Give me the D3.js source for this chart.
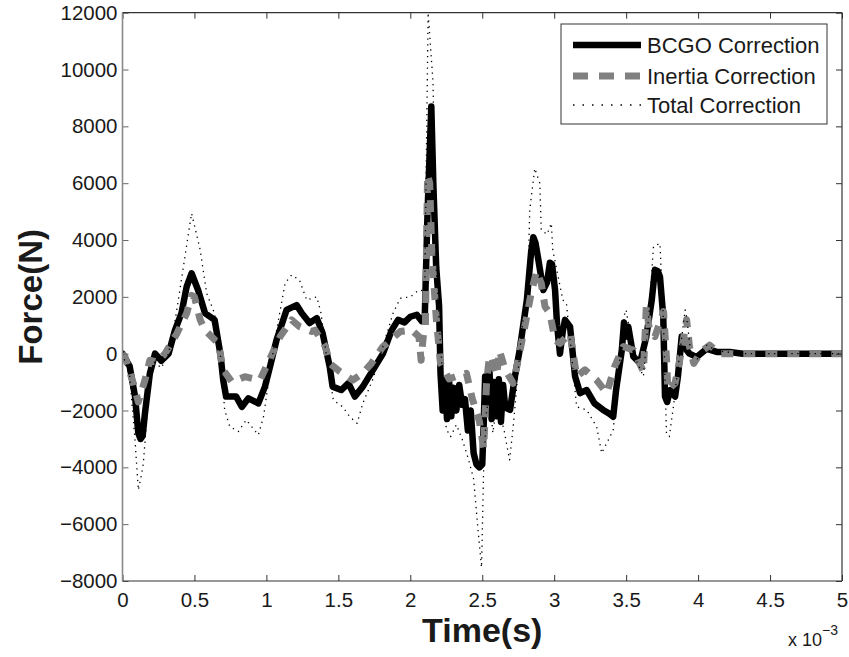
<!DOCTYPE html>
<html>
<head>
<meta charset="utf-8">
<script src="https://cdn.jsdelivr.net/npm/d3@7"></script>
<style>
html,body{margin:0;padding:0;background:#fff;}
svg{display:block;}
text{font-family:"Liberation Sans",Arial,sans-serif;fill:#1a1a1a;}
</style>
</head>
<body>
<svg id="chart" width="849" height="657"></svg>
<script>
// ---- data (time in ms, force in N) ----
const seriesNames = ["BCGO Correction", "Inertia Correction", "Total Correction"];

const bcgoT = [0,0.05,0.087,0.11,0.125,0.14,0.156,0.19,0.226,0.27,0.32,0.365,0.41,0.446,0.48,0.525,0.573,0.64,0.68,0.70,0.72,0.79,0.83,0.875,0.944,0.99,1.025,1.07,1.14,1.21,1.245,1.30,1.35,1.39,1.44,1.46,1.52,1.57,1.615,1.67,1.74,1.81,1.87,1.915,1.96,2.0,2.045,2.08,2.10,2.12,2.146,2.16,2.18,2.20,2.21,2.225,2.24,2.255,2.27,2.285,2.30,2.32,2.34,2.36,2.38,2.40,2.42,2.44,2.46,2.48,2.50,2.51,2.52,2.535,2.55,2.565,2.58,2.60,2.615,2.63,2.645,2.66,2.693,2.727,2.76,2.81,2.84,2.855,2.87,2.89,2.924,2.95,2.97,2.985,3.006,3.02,3.04,3.06,3.075,3.11,3.145,3.18,3.226,3.28,3.34,3.38,3.41,3.43,3.47,3.485,3.50,3.515,3.55,3.596,3.64,3.678,3.70,3.72,3.735,3.758,3.77,3.785,3.805,3.84,3.86,3.886,3.92,3.94,3.99,4.06,4.13,4.22,4.31,5.0];
const bcgoF = [0,-450,-1500,-2800,-3000,-2900,-2100,-700,0,-250,0,830,1430,2360,2830,2240,1430,1190,0,-930,-1510,-1510,-1870,-1570,-1750,-1160,-460,470,1540,1710,1430,1080,1250,730,-460,-1160,-1280,-1040,-1510,-1160,-580,0,820,1190,1100,1300,1370,1140,1190,5000,8700,6000,3040,1680,-700,-2000,-900,-2300,-1000,-2200,-1200,-2000,-1100,-1800,-1600,-2700,-2000,-3500,-3900,-4000,-3900,-2500,-800,-2000,-600,-2300,-1000,-2200,-900,-2400,-1100,-1900,-1980,-800,130,1890,3600,4100,3900,3300,2240,2500,3200,3150,2240,1000,0,800,1190,950,-800,-1390,-1280,-1750,-1980,-2100,-2220,-1280,130,1100,600,950,-100,-340,600,1890,2950,2900,2710,1300,-1510,-1700,-1280,-1510,-800,600,130,0,-120,170,60,60,0,0];

const inertiaT = [0,0.017,0.075,0.11,0.156,0.19,0.24,0.295,0.377,0.446,0.48,0.50,0.54,0.573,0.666,0.70,0.76,0.85,0.955,1.01,1.095,1.175,1.23,1.315,1.338,1.41,1.44,1.51,1.60,1.67,1.73,1.81,1.93,2.01,2.06,2.075,2.09,2.105,2.12,2.135,2.15,2.18,2.21,2.27,2.34,2.39,2.43,2.48,2.51,2.53,2.55,2.57,2.60,2.62,2.66,2.715,2.74,2.80,2.84,2.877,2.91,2.936,2.97,3.006,3.04,3.11,3.156,3.214,3.295,3.365,3.42,3.48,3.55,3.62,3.64,3.66,3.70,3.76,3.78,3.79,3.84,3.886,3.92,3.94,3.97,4.02,4.08,4.15,5.0];
const inertiaF = [0,-100,-1040,-1700,-930,-230,-300,0,700,1420,2050,2000,1190,830,360,-570,-990,-810,-930,-340,600,1190,950,780,830,250,-340,-630,-930,-690,-340,250,780,830,600,-230,600,1000,6300,6000,3500,1270,-350,-890,-760,-690,-1570,-2380,-3330,-1020,-80,-200,-760,100,-570,-1040,-460,1070,2130,2900,2480,1660,1420,480,360,720,-800,-570,-930,-1390,-460,250,130,-630,1660,900,600,1480,-120,-1280,-1040,130,1200,250,-340,60,300,0,0];

const totalT = [0,0.05,0.087,0.11,0.13,0.145,0.18,0.22,0.27,0.32,0.37,0.42,0.48,0.54,0.585,0.64,0.68,0.71,0.746,0.805,0.86,0.944,0.98,1.02,1.07,1.13,1.175,1.23,1.28,1.35,1.38,1.42,1.465,1.53,1.58,1.63,1.67,1.74,1.81,1.88,1.93,2.0,2.06,2.10,2.124,2.158,2.18,2.21,2.25,2.28,2.32,2.36,2.405,2.44,2.47,2.495,2.51,2.53,2.55,2.574,2.60,2.65,2.69,2.715,2.766,2.82,2.83,2.865,2.90,2.91,2.95,2.98,2.99,3.06,3.085,3.12,3.156,3.226,3.295,3.33,3.365,3.41,3.45,3.49,3.50,3.55,3.62,3.66,3.69,3.735,3.76,3.78,3.80,3.83,3.86,3.91,3.92,3.95,4.0,4.06,4.13,4.3,5.0];
const totalF = [0,-800,-3040,-4800,-4300,-3860,-1500,-300,-500,0,1300,2950,4940,3650,2120,1420,0,-1980,-2570,-2740,-2330,-2860,-2220,-800,800,2480,2770,2590,1890,2000,1420,-200,-1630,-1870,-2220,-2450,-1750,-900,250,1420,1950,2000,2240,2200,12000,9540,3000,330,-2650,-2920,-2500,-3000,-3730,-4410,-6170,-7520,-4000,-2000,-1500,-2790,-1800,-2650,-3740,-2570,330,3040,5060,6520,6000,4350,4200,4590,3650,1890,1770,0,-1870,-1980,-2570,-3500,-3150,-2690,-500,1420,1540,0,-800,1500,3770,3880,1000,-2800,-2920,-1800,-500,1540,1300,0,-200,300,100,0,0];

const xTicks = [0,0.5,1,1.5,2,2.5,3,3.5,4,4.5,5];
const xTickLabels = ["0","0.5","1","1.5","2","2.5","3","3.5","4","4.5","5"];
const yTicks = [-8000,-6000,-4000,-2000,0,2000,4000,6000,8000,10000,12000];
const yTickLabels = ["\u22128000","\u22126000","\u22124000","\u22122000","0","2000","4000","6000","8000","10000","12000"];

// ---- layout ----
const L = 122.5, R = 842, T = 12.7, B = 581;
const svg = d3.select("#chart");
const x = d3.scaleLinear().domain([0,5]).range([L,R]);
const y = d3.scaleLinear().domain([-8000,12000]).range([B,T]);

svg.append("defs").append("clipPath").attr("id","clip")
  .append("rect").attr("x",L).attr("y",T).attr("width",R-L).attr("height",B-T);

const zip = (ts,fs) => ts.map((t,i)=>[t,fs[i]]);
const line = d3.line().x(d=>x(d[0])).y(d=>y(d[1]));

const styles = [
  {stroke:"#000", width:6.5, dash:null, cap:"round"},
  {stroke:"#808080", width:7, dash:"12,10", cap:"butt"},
  {stroke:"#000", width:1.3, dash:"1.3,4.5", cap:"butt"}
];
const data = [zip(bcgoT,bcgoF), zip(inertiaT,inertiaF), zip(totalT,totalF)];

const plot = svg.append("g").attr("clip-path","url(#clip)");
data.forEach((d,i)=>{
  const s = styles[i];
  plot.append("path").datum(d)
    .attr("d",line)
    .attr("fill","none")
    .attr("stroke",s.stroke)
    .attr("stroke-width",s.width)
    .attr("stroke-linejoin","round")
    .attr("stroke-linecap",s.cap)
    .attr("stroke-dasharray",s.dash);
});

// ---- axes ----
const fs = "20.5px";
const xAxis = d3.axisBottom(x).tickValues(xTicks).tickFormat((d,i)=>xTickLabels[i])
  .tickSizeInner(-6).tickSizeOuter(0).tickPadding(11);
const gx = svg.append("g").attr("transform",`translate(0,${B})`).call(xAxis);
const yAxis = d3.axisLeft(y).tickValues(yTicks).tickFormat((d,i)=>yTickLabels[i])
  .tickSizeInner(-6).tickSizeOuter(0).tickPadding(5);
const gy = svg.append("g").attr("transform",`translate(${L},0)`).call(yAxis);
const gt = svg.append("g").attr("transform",`translate(0,${T})`)
  .call(d3.axisTop(x).tickValues(xTicks).tickFormat("").tickSizeInner(-6).tickSizeOuter(0));
const gr = svg.append("g").attr("transform",`translate(${R},0)`)
  .call(d3.axisRight(y).tickValues(yTicks).tickFormat("").tickSizeInner(-6).tickSizeOuter(0));
[gx,gy,gt,gr].forEach(g=>{
  g.select(".domain").remove();
  g.selectAll(".tick line").attr("stroke","#333").attr("stroke-width",1);
  g.selectAll(".tick text").attr("font-size",fs).attr("fill","#1a1a1a")
    .attr("font-family","'Liberation Sans',Arial,sans-serif");
});
gy.selectAll(".tick line").attr("stroke","#666");

// box
svg.append("line").attr("x1",L).attr("x2",R).attr("y1",T).attr("y2",T).attr("stroke","#333").attr("stroke-width",1.2);
svg.append("line").attr("x1",L).attr("x2",R).attr("y1",B).attr("y2",B).attr("stroke","#333").attr("stroke-width",1.2);
svg.append("line").attr("x1",R).attr("x2",R).attr("y1",T).attr("y2",B).attr("stroke","#333").attr("stroke-width",1.2);
svg.append("line").attr("x1",L).attr("x2",L).attr("y1",T).attr("y2",B).attr("stroke","#8a8a8a").attr("stroke-width",1.6);

// exponent label
const ex = svg.append("text").attr("x",788).attr("y",646).attr("font-size","18px");
ex.append("tspan").text("x 10");
ex.append("tspan").attr("dy",-11).attr("font-size","14px").text("\u22123");

// axis titles
svg.append("text").attr("x",(L+R)/2).attr("y",642).attr("text-anchor","middle")
  .attr("font-size","34px").attr("font-weight","bold").attr("fill","#000").text("Time(s)");
svg.append("text").attr("transform",`translate(42,${(T+B)/2}) rotate(-90)`).attr("text-anchor","middle")
  .attr("font-size","33px").attr("font-weight","bold").attr("fill","#000").text("Force(N)");

// legend
const lg = svg.append("g");
lg.append("rect").attr("x",561).attr("y",24).attr("width",266).attr("height",100)
  .attr("fill","#fff").attr("stroke","#333").attr("stroke-width",1);
const rowsY = [45,76,105];
seriesNames.forEach((n,i)=>{
  const s = styles[i];
  lg.append("line").attr("x1",573).attr("x2",641).attr("y1",rowsY[i]).attr("y2",rowsY[i])
    .attr("stroke",s.stroke).attr("stroke-width",s.width).attr("stroke-dasharray",i===2?"1.5,8":(i===1?"15,11":null));
  lg.append("text").attr("x",647).attr("y",rowsY[i]).attr("dy","0.36em")
    .attr("font-size","22px").text(n);
});
</script>
</body>
</html>
